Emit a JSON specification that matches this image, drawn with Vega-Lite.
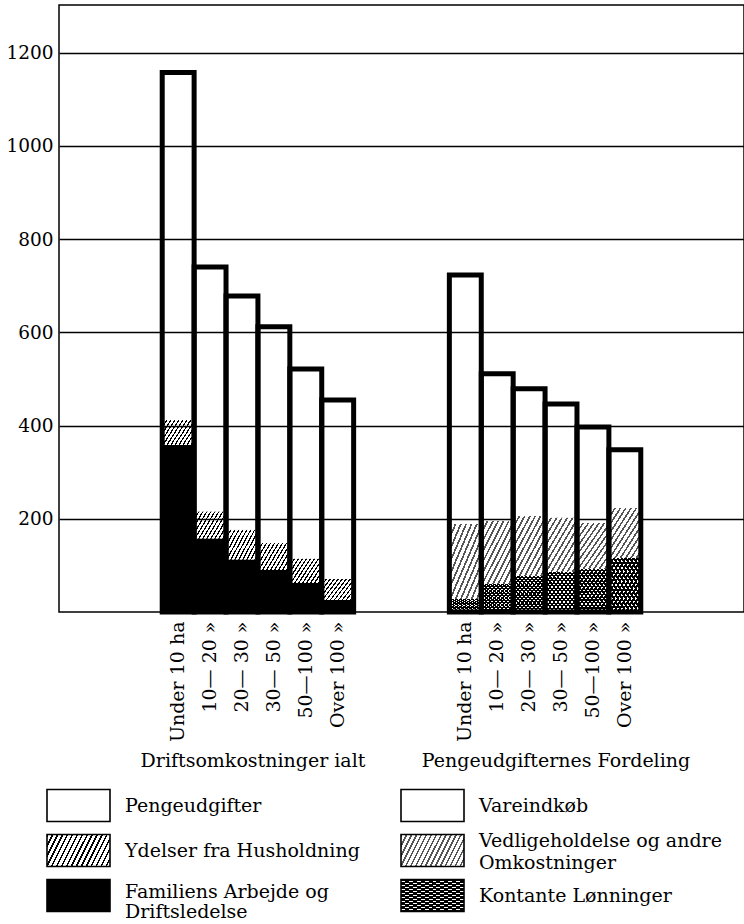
{
  "$schema": "https://vega.github.io/schema/vega-lite/v6.json",
  "background": "white",
  "padding": {"left": 5, "top": 4, "right": 0, "bottom": 0},
  "bounds": "flush",
  "spacing": 126,
  "config": {
    "view": {"stroke": null},
    "font": "DejaVu Serif",
    "axis": {"labelFont": "DejaVu Serif", "labelColor": "#000"},
    "text": {"font": "DejaVu Serif", "color": "#000"}
  },
  "vconcat": [
    {
      "width": 685,
      "height": 607,
      "view": {"stroke": "#000", "strokeWidth": 1.5},
      "data": {
        "values": [
          {"key": "D:Under 10 ha", "part": "Familiens Arbejde og Driftsledelse", "level": 1, "value": 358},
          {"key": "D:Under 10 ha", "part": "Ydelser fra Husholdning", "level": 2, "value": 54},
          {"key": "D:Under 10 ha", "part": "Pengeudgifter", "level": 3, "value": 745},
          {"key": "D:10— 20 »", "part": "Familiens Arbejde og Driftsledelse", "level": 1, "value": 157},
          {"key": "D:10— 20 »", "part": "Ydelser fra Husholdning", "level": 2, "value": 58},
          {"key": "D:10— 20 »", "part": "Pengeudgifter", "level": 3, "value": 525},
          {"key": "D:20— 30 »", "part": "Familiens Arbejde og Driftsledelse", "level": 1, "value": 112},
          {"key": "D:20— 30 »", "part": "Ydelser fra Husholdning", "level": 2, "value": 64},
          {"key": "D:20— 30 »", "part": "Pengeudgifter", "level": 3, "value": 502},
          {"key": "D:30— 50 »", "part": "Familiens Arbejde og Driftsledelse", "level": 1, "value": 90},
          {"key": "D:30— 50 »", "part": "Ydelser fra Husholdning", "level": 2, "value": 58},
          {"key": "D:30— 50 »", "part": "Pengeudgifter", "level": 3, "value": 464},
          {"key": "D:50—100 »", "part": "Familiens Arbejde og Driftsledelse", "level": 1, "value": 62},
          {"key": "D:50—100 »", "part": "Ydelser fra Husholdning", "level": 2, "value": 52},
          {"key": "D:50—100 »", "part": "Pengeudgifter", "level": 3, "value": 407},
          {"key": "D:Over 100 »", "part": "Familiens Arbejde og Driftsledelse", "level": 1, "value": 26},
          {"key": "D:Over 100 »", "part": "Ydelser fra Husholdning", "level": 2, "value": 45},
          {"key": "D:Over 100 »", "part": "Pengeudgifter", "level": 3, "value": 384},
          {"key": "P:Under 10 ha", "part": "Kontante Lønninger", "level": 1, "value": 28},
          {"key": "P:Under 10 ha", "part": "Vedligeholdelse og andre Omkostninger", "level": 2, "value": 161},
          {"key": "P:Under 10 ha", "part": "Vareindkøb", "level": 3, "value": 534},
          {"key": "P:10— 20 »", "part": "Kontante Lønninger", "level": 1, "value": 60},
          {"key": "P:10— 20 »", "part": "Vedligeholdelse og andre Omkostninger", "level": 2, "value": 135},
          {"key": "P:10— 20 »", "part": "Vareindkøb", "level": 3, "value": 316},
          {"key": "P:20— 30 »", "part": "Kontante Lønninger", "level": 1, "value": 77},
          {"key": "P:20— 30 »", "part": "Vedligeholdelse og andre Omkostninger", "level": 2, "value": 129},
          {"key": "P:20— 30 »", "part": "Vareindkøb", "level": 3, "value": 273},
          {"key": "P:30— 50 »", "part": "Kontante Lønninger", "level": 1, "value": 86},
          {"key": "P:30— 50 »", "part": "Vedligeholdelse og andre Omkostninger", "level": 2, "value": 116},
          {"key": "P:30— 50 »", "part": "Vareindkøb", "level": 3, "value": 244},
          {"key": "P:50—100 »", "part": "Kontante Lønninger", "level": 1, "value": 92},
          {"key": "P:50—100 »", "part": "Vedligeholdelse og andre Omkostninger", "level": 2, "value": 99},
          {"key": "P:50—100 »", "part": "Vareindkøb", "level": 3, "value": 206},
          {"key": "P:Over 100 »", "part": "Kontante Lønninger", "level": 1, "value": 116},
          {"key": "P:Over 100 »", "part": "Vedligeholdelse og andre Omkostninger", "level": 2, "value": 107},
          {"key": "P:Over 100 »", "part": "Vareindkøb", "level": 3, "value": 125}
        ]
      },
      "transform": [
        {"stack": "value", "groupby": ["key"], "sort": [{"field": "level", "order": "ascending"}], "as": ["v0", "v1"]}
      ],
      "encoding": {
        "x": {
          "field": "key", "type": "nominal", "sort": null,
          "scale": {
            "domain": ["a1", "a2", "a3", "D:Under 10 ha", "D:10— 20 »", "D:20— 30 »", "D:30— 50 »", "D:50—100 »", "D:Over 100 »", "g1", "g2", "g3", "P:Under 10 ha", "P:10— 20 »", "P:20— 30 »", "P:30— 50 »", "P:50—100 »", "P:Over 100 »", "z1", "z2", "z3"],
            "paddingInner": 0, "paddingOuter": 0.235
          },
          "axis": {
            "orient": "bottom", "title": null, "labelAngle": -90, "labelAlign": "right", "labelBaseline": "middle",
            "labelPadding": 9, "ticks": false, "domain": false, "grid": false, "labelFontSize": 19,
            "labelExpr": "slice(datum.value, 2)", "labelOverlap": false, "labelLimit": 300
          }
        }
      },
      "layer": [
        {
          "transform": [{"filter": {"field": "part", "equal": "Familiens Arbejde og Driftsledelse"}}],
          "mark": {"type": "bar", "fill": "#000"},
          "encoding": {
            "y": {
              "field": "v1", "type": "quantitative",
              "scale": {"domain": [0, 1302], "nice": false},
              "axis": {"title": null, "format": "d", "values": [200, 400, 600, 800, 1000, 1200], "grid": true, "gridColor": "#000", "gridWidth": 1.3, "gridOpacity": 1, "ticks": false, "domain": false, "labelPadding": 6, "labelFontSize": 18.5}
            },
            "y2": {"field": "v0"}
          }
        },
        {
          "transform": [{"filter": {"field": "part", "equal": "Ydelser fra Husholdning"}}],
          "mark": {"type": "bar", "fill": {"gradient": "linear", "x1": 0, "y1": 0, "x2": 1.2, "y2": 0.6, "stops": [
            {"offset": 0, "color": "#000"}, {"offset": 0.029, "color": "#000"}, {"offset": 0.029, "color": "transparent"}, {"offset": 0.0833, "color": "transparent"},
            {"offset": 0.0833, "color": "#000"}, {"offset": 0.1123, "color": "#000"}, {"offset": 0.1123, "color": "transparent"}, {"offset": 0.1667, "color": "transparent"},
            {"offset": 0.1667, "color": "#000"}, {"offset": 0.1957, "color": "#000"}, {"offset": 0.1957, "color": "transparent"}, {"offset": 0.25, "color": "transparent"},
            {"offset": 0.25, "color": "#000"}, {"offset": 0.279, "color": "#000"}, {"offset": 0.279, "color": "transparent"}, {"offset": 0.3333, "color": "transparent"},
            {"offset": 0.3333, "color": "#000"}, {"offset": 0.3623, "color": "#000"}, {"offset": 0.3623, "color": "transparent"}, {"offset": 0.4167, "color": "transparent"},
            {"offset": 0.4167, "color": "#000"}, {"offset": 0.4457, "color": "#000"}, {"offset": 0.4457, "color": "transparent"}, {"offset": 0.5, "color": "transparent"},
            {"offset": 0.5, "color": "#000"}, {"offset": 0.529, "color": "#000"}, {"offset": 0.529, "color": "transparent"}, {"offset": 0.5833, "color": "transparent"},
            {"offset": 0.5833, "color": "#000"}, {"offset": 0.6123, "color": "#000"}, {"offset": 0.6123, "color": "transparent"}, {"offset": 0.6667, "color": "transparent"},
            {"offset": 0.6667, "color": "#000"}, {"offset": 0.6957, "color": "#000"}, {"offset": 0.6957, "color": "transparent"}, {"offset": 0.75, "color": "transparent"},
            {"offset": 0.75, "color": "#000"}, {"offset": 0.779, "color": "#000"}, {"offset": 0.779, "color": "transparent"}, {"offset": 0.8333, "color": "transparent"},
            {"offset": 0.8333, "color": "#000"}, {"offset": 0.8623, "color": "#000"}, {"offset": 0.8623, "color": "transparent"}, {"offset": 0.9167, "color": "transparent"},
            {"offset": 0.9167, "color": "#000"}, {"offset": 0.9457, "color": "#000"}, {"offset": 0.9457, "color": "transparent"}, {"offset": 1, "color": "transparent"}
          ]}},
          "encoding": {
            "y": {
              "field": "v1", "type": "quantitative",
              "scale": {"domain": [0, 1302], "nice": false},
              "axis": {"title": null, "format": "d", "values": [200, 400, 600, 800, 1000, 1200], "grid": true, "gridColor": "#000", "gridWidth": 1.3, "gridOpacity": 1, "ticks": false, "domain": false, "labelPadding": 6, "labelFontSize": 18.5}
            },
            "y2": {"field": "v0"}
          }
        },
        {
          "transform": [{"filter": {"field": "part", "equal": "Vedligeholdelse og andre Omkostninger"}}],
          "mark": {"type": "bar", "fill": {"gradient": "linear", "x1": 0, "y1": 0, "x2": 1, "y2": 1, "stops": [
            {"offset": 0, "color": "#555"}, {"offset": 0.029, "color": "#555"}, {"offset": 0.029, "color": "#fff"}, {"offset": 0.0833, "color": "#fff"},
            {"offset": 0.0833, "color": "#555"}, {"offset": 0.1123, "color": "#555"}, {"offset": 0.1123, "color": "#fff"}, {"offset": 0.1667, "color": "#fff"},
            {"offset": 0.1667, "color": "#555"}, {"offset": 0.1957, "color": "#555"}, {"offset": 0.1957, "color": "#fff"}, {"offset": 0.25, "color": "#fff"},
            {"offset": 0.25, "color": "#555"}, {"offset": 0.279, "color": "#555"}, {"offset": 0.279, "color": "#fff"}, {"offset": 0.3333, "color": "#fff"},
            {"offset": 0.3333, "color": "#555"}, {"offset": 0.3623, "color": "#555"}, {"offset": 0.3623, "color": "#fff"}, {"offset": 0.4167, "color": "#fff"},
            {"offset": 0.4167, "color": "#555"}, {"offset": 0.4457, "color": "#555"}, {"offset": 0.4457, "color": "#fff"}, {"offset": 0.5, "color": "#fff"},
            {"offset": 0.5, "color": "#555"}, {"offset": 0.529, "color": "#555"}, {"offset": 0.529, "color": "#fff"}, {"offset": 0.5833, "color": "#fff"},
            {"offset": 0.5833, "color": "#555"}, {"offset": 0.6123, "color": "#555"}, {"offset": 0.6123, "color": "#fff"}, {"offset": 0.6667, "color": "#fff"},
            {"offset": 0.6667, "color": "#555"}, {"offset": 0.6957, "color": "#555"}, {"offset": 0.6957, "color": "#fff"}, {"offset": 0.75, "color": "#fff"},
            {"offset": 0.75, "color": "#555"}, {"offset": 0.779, "color": "#555"}, {"offset": 0.779, "color": "#fff"}, {"offset": 0.8333, "color": "#fff"},
            {"offset": 0.8333, "color": "#555"}, {"offset": 0.8623, "color": "#555"}, {"offset": 0.8623, "color": "#fff"}, {"offset": 0.9167, "color": "#fff"},
            {"offset": 0.9167, "color": "#555"}, {"offset": 0.9457, "color": "#555"}, {"offset": 0.9457, "color": "#fff"}, {"offset": 1, "color": "#fff"}
          ]}},
          "encoding": {
            "y": {
              "field": "v1", "type": "quantitative",
              "scale": {"domain": [0, 1302], "nice": false},
              "axis": {"title": null, "format": "d", "values": [200, 400, 600, 800, 1000, 1200], "grid": true, "gridColor": "#000", "gridWidth": 1.3, "gridOpacity": 1, "ticks": false, "domain": false, "labelPadding": 6, "labelFontSize": 18.5}
            },
            "y2": {"field": "v0"}
          }
        },
        {
          "transform": [{"filter": {"field": "part", "equal": "Kontante Lønninger"}}],
          "mark": {"type": "bar", "fill": {"gradient": "linear", "x1": 0, "y1": 0, "x2": 1, "y2": 1, "stops": [
            {"offset": 0, "color": "#000"}, {"offset": 0.03125, "color": "#000"}, {"offset": 0.03125, "color": "#fff"}, {"offset": 0.0625, "color": "#fff"},
            {"offset": 0.0625, "color": "#000"}, {"offset": 0.09375, "color": "#000"}, {"offset": 0.09375, "color": "#fff"}, {"offset": 0.125, "color": "#fff"},
            {"offset": 0.125, "color": "#000"}, {"offset": 0.15625, "color": "#000"}, {"offset": 0.15625, "color": "#fff"}, {"offset": 0.1875, "color": "#fff"},
            {"offset": 0.1875, "color": "#000"}, {"offset": 0.21875, "color": "#000"}, {"offset": 0.21875, "color": "#fff"}, {"offset": 0.25, "color": "#fff"},
            {"offset": 0.25, "color": "#000"}, {"offset": 0.28125, "color": "#000"}, {"offset": 0.28125, "color": "#fff"}, {"offset": 0.3125, "color": "#fff"},
            {"offset": 0.3125, "color": "#000"}, {"offset": 0.34375, "color": "#000"}, {"offset": 0.34375, "color": "#fff"}, {"offset": 0.375, "color": "#fff"},
            {"offset": 0.375, "color": "#000"}, {"offset": 0.40625, "color": "#000"}, {"offset": 0.40625, "color": "#fff"}, {"offset": 0.4375, "color": "#fff"},
            {"offset": 0.4375, "color": "#000"}, {"offset": 0.46875, "color": "#000"}, {"offset": 0.46875, "color": "#fff"}, {"offset": 0.5, "color": "#fff"},
            {"offset": 0.5, "color": "#000"}, {"offset": 0.53125, "color": "#000"}, {"offset": 0.53125, "color": "#fff"}, {"offset": 0.5625, "color": "#fff"},
            {"offset": 0.5625, "color": "#000"}, {"offset": 0.59375, "color": "#000"}, {"offset": 0.59375, "color": "#fff"}, {"offset": 0.625, "color": "#fff"},
            {"offset": 0.625, "color": "#000"}, {"offset": 0.65625, "color": "#000"}, {"offset": 0.65625, "color": "#fff"}, {"offset": 0.6875, "color": "#fff"},
            {"offset": 0.6875, "color": "#000"}, {"offset": 0.71875, "color": "#000"}, {"offset": 0.71875, "color": "#fff"}, {"offset": 0.75, "color": "#fff"},
            {"offset": 0.75, "color": "#000"}, {"offset": 0.78125, "color": "#000"}, {"offset": 0.78125, "color": "#fff"}, {"offset": 0.8125, "color": "#fff"},
            {"offset": 0.8125, "color": "#000"}, {"offset": 0.84375, "color": "#000"}, {"offset": 0.84375, "color": "#fff"}, {"offset": 0.875, "color": "#fff"},
            {"offset": 0.875, "color": "#000"}, {"offset": 0.90625, "color": "#000"}, {"offset": 0.90625, "color": "#fff"}, {"offset": 0.9375, "color": "#fff"},
            {"offset": 0.9375, "color": "#000"}, {"offset": 0.96875, "color": "#000"}, {"offset": 0.96875, "color": "#fff"}, {"offset": 1, "color": "#fff"}
          ]}},
          "encoding": {
            "y": {
              "field": "v1", "type": "quantitative",
              "scale": {"domain": [0, 1302], "nice": false},
              "axis": {"title": null, "format": "d", "values": [200, 400, 600, 800, 1000, 1200], "grid": true, "gridColor": "#000", "gridWidth": 1.3, "gridOpacity": 1, "ticks": false, "domain": false, "labelPadding": 6, "labelFontSize": 18.5}
            },
            "y2": {"field": "v0"}
          }
        },
        {
          "transform": [{"filter": {"field": "part", "equal": "Kontante Lønninger"}}],
          "mark": {"type": "bar", "fill": {"gradient": "linear", "x1": 0, "y1": 1, "x2": 1, "y2": 0, "stops": [
            {"offset": 0, "color": "#000"}, {"offset": 0.03125, "color": "#000"}, {"offset": 0.03125, "color": "transparent"}, {"offset": 0.0625, "color": "transparent"},
            {"offset": 0.0625, "color": "#000"}, {"offset": 0.09375, "color": "#000"}, {"offset": 0.09375, "color": "transparent"}, {"offset": 0.125, "color": "transparent"},
            {"offset": 0.125, "color": "#000"}, {"offset": 0.15625, "color": "#000"}, {"offset": 0.15625, "color": "transparent"}, {"offset": 0.1875, "color": "transparent"},
            {"offset": 0.1875, "color": "#000"}, {"offset": 0.21875, "color": "#000"}, {"offset": 0.21875, "color": "transparent"}, {"offset": 0.25, "color": "transparent"},
            {"offset": 0.25, "color": "#000"}, {"offset": 0.28125, "color": "#000"}, {"offset": 0.28125, "color": "transparent"}, {"offset": 0.3125, "color": "transparent"},
            {"offset": 0.3125, "color": "#000"}, {"offset": 0.34375, "color": "#000"}, {"offset": 0.34375, "color": "transparent"}, {"offset": 0.375, "color": "transparent"},
            {"offset": 0.375, "color": "#000"}, {"offset": 0.40625, "color": "#000"}, {"offset": 0.40625, "color": "transparent"}, {"offset": 0.4375, "color": "transparent"},
            {"offset": 0.4375, "color": "#000"}, {"offset": 0.46875, "color": "#000"}, {"offset": 0.46875, "color": "transparent"}, {"offset": 0.5, "color": "transparent"},
            {"offset": 0.5, "color": "#000"}, {"offset": 0.53125, "color": "#000"}, {"offset": 0.53125, "color": "transparent"}, {"offset": 0.5625, "color": "transparent"},
            {"offset": 0.5625, "color": "#000"}, {"offset": 0.59375, "color": "#000"}, {"offset": 0.59375, "color": "transparent"}, {"offset": 0.625, "color": "transparent"},
            {"offset": 0.625, "color": "#000"}, {"offset": 0.65625, "color": "#000"}, {"offset": 0.65625, "color": "transparent"}, {"offset": 0.6875, "color": "transparent"},
            {"offset": 0.6875, "color": "#000"}, {"offset": 0.71875, "color": "#000"}, {"offset": 0.71875, "color": "transparent"}, {"offset": 0.75, "color": "transparent"},
            {"offset": 0.75, "color": "#000"}, {"offset": 0.78125, "color": "#000"}, {"offset": 0.78125, "color": "transparent"}, {"offset": 0.8125, "color": "transparent"},
            {"offset": 0.8125, "color": "#000"}, {"offset": 0.84375, "color": "#000"}, {"offset": 0.84375, "color": "transparent"}, {"offset": 0.875, "color": "transparent"},
            {"offset": 0.875, "color": "#000"}, {"offset": 0.90625, "color": "#000"}, {"offset": 0.90625, "color": "transparent"}, {"offset": 0.9375, "color": "transparent"},
            {"offset": 0.9375, "color": "#000"}, {"offset": 0.96875, "color": "#000"}, {"offset": 0.96875, "color": "transparent"}, {"offset": 1, "color": "transparent"}
          ]}},
          "encoding": {
            "y": {
              "field": "v1", "type": "quantitative",
              "scale": {"domain": [0, 1302], "nice": false},
              "axis": {"title": null, "format": "d", "values": [200, 400, 600, 800, 1000, 1200], "grid": true, "gridColor": "#000", "gridWidth": 1.3, "gridOpacity": 1, "ticks": false, "domain": false, "labelPadding": 6, "labelFontSize": 18.5}
            },
            "y2": {"field": "v0"}
          }
        },
        {
          "mark": {"type": "bar", "fill": "transparent", "stroke": "#000", "strokeWidth": 5},
          "encoding": {
            "y": {
              "aggregate": "sum", "field": "value", "type": "quantitative",
              "scale": {"domain": [0, 1302], "nice": false},
              "axis": {"title": null, "format": "d", "values": [200, 400, 600, 800, 1000, 1200], "grid": true, "gridColor": "#000", "gridWidth": 1.3, "gridOpacity": 1, "ticks": false, "domain": false, "labelPadding": 6, "labelFontSize": 18.5}
            }
          }
        }
      ]
    },
    {
      "width": 685,
      "height": 180,
      "view": {"stroke": null},
      "data": {
        "values": [
          {"col": "A", "row": "1", "label": "Pengeudgifter"},
          {"col": "A", "row": "2", "label": "Ydelser fra Husholdning"},
          {"col": "A", "row": "3", "label": "Familiens Arbejde og\n\u2002Driftsledelse"},
          {"col": "B", "row": "1", "label": "Vareindkøb"},
          {"col": "B", "row": "2", "label": "Vedligeholdelse og andre\n\u2009Omkostninger"},
          {"col": "B", "row": "3", "label": "Kontante Lønninger"}
        ]
      },
      "encoding": {
        "y": {"field": "row", "type": "nominal", "scale": {"type": "band", "domain": ["t", "1", "2", "3"], "paddingInner": 0, "paddingOuter": 0}, "axis": null}
      },
      "layer": [
        {
          "data": {"values": [
            {"col": "A", "row": "t", "label": "Driftsomkostninger ialt"},
            {"col": "B", "row": "t", "label": "Pengeudgifternes Fordeling"}
          ]},
          "mark": {"type": "text", "fontSize": 19, "align": "center", "baseline": "middle", "color": "#000"},
          "encoding": {
            "x": {"field": "col", "type": "nominal", "scale": {"type": "band", "domain": ["A", "B"], "paddingInner": 0, "paddingOuter": 0.1304, "align": 0.538}, "axis": null},
            "text": {"field": "label"}
          }
        },
        {
          "transform": [{"filter": "datum.row == '1'"}],
          "mark": {"type": "point", "shape": "M-1,-0.508H1V0.508H-1Z", "size": 3969, "filled": true, "fill": "#fff", "stroke": "#000", "strokeWidth": 1.6, "opacity": 1, "xOffset": -146},
          "encoding": {
            "x": {"field": "col", "type": "nominal", "scale": {"type": "band", "domain": ["A", "B"], "paddingInner": 0.065, "paddingOuter": 0}, "axis": null}
          }
        },
        {
          "transform": [{"filter": "datum.row == '2' && datum.col == 'A'"}],
          "mark": {"type": "point", "shape": "M-1,-0.508H1V0.508H-1Z", "size": 3969, "filled": true, "stroke": "#000", "strokeWidth": 1.6, "opacity": 1, "xOffset": -146,
            "fill": {"gradient": "linear", "x1": 0, "y1": 0, "x2": 1.178, "y2": 0.3, "stops": [
              {"offset": 0, "color": "#000"}, {"offset": 0.0219, "color": "#000"}, {"offset": 0.0219, "color": "#fff"}, {"offset": 0.0625, "color": "#fff"},
              {"offset": 0.0625, "color": "#000"}, {"offset": 0.0844, "color": "#000"}, {"offset": 0.0844, "color": "#fff"}, {"offset": 0.125, "color": "#fff"},
              {"offset": 0.125, "color": "#000"}, {"offset": 0.1469, "color": "#000"}, {"offset": 0.1469, "color": "#fff"}, {"offset": 0.1875, "color": "#fff"},
              {"offset": 0.1875, "color": "#000"}, {"offset": 0.2094, "color": "#000"}, {"offset": 0.2094, "color": "#fff"}, {"offset": 0.25, "color": "#fff"},
              {"offset": 0.25, "color": "#000"}, {"offset": 0.2719, "color": "#000"}, {"offset": 0.2719, "color": "#fff"}, {"offset": 0.3125, "color": "#fff"},
              {"offset": 0.3125, "color": "#000"}, {"offset": 0.3344, "color": "#000"}, {"offset": 0.3344, "color": "#fff"}, {"offset": 0.375, "color": "#fff"},
              {"offset": 0.375, "color": "#000"}, {"offset": 0.3969, "color": "#000"}, {"offset": 0.3969, "color": "#fff"}, {"offset": 0.4375, "color": "#fff"},
              {"offset": 0.4375, "color": "#000"}, {"offset": 0.4594, "color": "#000"}, {"offset": 0.4594, "color": "#fff"}, {"offset": 0.5, "color": "#fff"},
              {"offset": 0.5, "color": "#000"}, {"offset": 0.5219, "color": "#000"}, {"offset": 0.5219, "color": "#fff"}, {"offset": 0.5625, "color": "#fff"},
              {"offset": 0.5625, "color": "#000"}, {"offset": 0.5844, "color": "#000"}, {"offset": 0.5844, "color": "#fff"}, {"offset": 0.625, "color": "#fff"},
              {"offset": 0.625, "color": "#000"}, {"offset": 0.6469, "color": "#000"}, {"offset": 0.6469, "color": "#fff"}, {"offset": 0.6875, "color": "#fff"},
              {"offset": 0.6875, "color": "#000"}, {"offset": 0.7094, "color": "#000"}, {"offset": 0.7094, "color": "#fff"}, {"offset": 0.75, "color": "#fff"},
              {"offset": 0.75, "color": "#000"}, {"offset": 0.7719, "color": "#000"}, {"offset": 0.7719, "color": "#fff"}, {"offset": 0.8125, "color": "#fff"},
              {"offset": 0.8125, "color": "#000"}, {"offset": 0.8344, "color": "#000"}, {"offset": 0.8344, "color": "#fff"}, {"offset": 0.875, "color": "#fff"},
              {"offset": 0.875, "color": "#000"}, {"offset": 0.8969, "color": "#000"}, {"offset": 0.8969, "color": "#fff"}, {"offset": 0.9375, "color": "#fff"},
              {"offset": 0.9375, "color": "#000"}, {"offset": 0.9594, "color": "#000"}, {"offset": 0.9594, "color": "#fff"}, {"offset": 1, "color": "#fff"}
            ]}},
          "encoding": {
            "x": {"field": "col", "type": "nominal", "scale": {"type": "band", "domain": ["A", "B"], "paddingInner": 0.065, "paddingOuter": 0}, "axis": null}
          }
        },
        {
          "transform": [{"filter": "datum.row == '3' && datum.col == 'A'"}],
          "mark": {"type": "point", "shape": "M-1,-0.508H1V0.508H-1Z", "size": 3969, "filled": true, "fill": "#000", "stroke": "#000", "strokeWidth": 1.6, "opacity": 1, "xOffset": -146},
          "encoding": {
            "x": {"field": "col", "type": "nominal", "scale": {"type": "band", "domain": ["A", "B"], "paddingInner": 0.065, "paddingOuter": 0}, "axis": null}
          }
        },
        {
          "transform": [{"filter": "datum.row == '2' && datum.col == 'B'"}],
          "mark": {"type": "point", "shape": "M-1,-0.508H1V0.508H-1Z", "size": 3969, "filled": true, "stroke": "#000", "strokeWidth": 1.6, "opacity": 1, "xOffset": -146,
            "fill": {"gradient": "linear", "x1": 0, "y1": 0, "x2": 1.178, "y2": 0.3, "stops": [
              {"offset": 0, "color": "#555"}, {"offset": 0.0219, "color": "#555"}, {"offset": 0.0219, "color": "#fff"}, {"offset": 0.0625, "color": "#fff"},
              {"offset": 0.0625, "color": "#555"}, {"offset": 0.0844, "color": "#555"}, {"offset": 0.0844, "color": "#fff"}, {"offset": 0.125, "color": "#fff"},
              {"offset": 0.125, "color": "#555"}, {"offset": 0.1469, "color": "#555"}, {"offset": 0.1469, "color": "#fff"}, {"offset": 0.1875, "color": "#fff"},
              {"offset": 0.1875, "color": "#555"}, {"offset": 0.2094, "color": "#555"}, {"offset": 0.2094, "color": "#fff"}, {"offset": 0.25, "color": "#fff"},
              {"offset": 0.25, "color": "#555"}, {"offset": 0.2719, "color": "#555"}, {"offset": 0.2719, "color": "#fff"}, {"offset": 0.3125, "color": "#fff"},
              {"offset": 0.3125, "color": "#555"}, {"offset": 0.3344, "color": "#555"}, {"offset": 0.3344, "color": "#fff"}, {"offset": 0.375, "color": "#fff"},
              {"offset": 0.375, "color": "#555"}, {"offset": 0.3969, "color": "#555"}, {"offset": 0.3969, "color": "#fff"}, {"offset": 0.4375, "color": "#fff"},
              {"offset": 0.4375, "color": "#555"}, {"offset": 0.4594, "color": "#555"}, {"offset": 0.4594, "color": "#fff"}, {"offset": 0.5, "color": "#fff"},
              {"offset": 0.5, "color": "#555"}, {"offset": 0.5219, "color": "#555"}, {"offset": 0.5219, "color": "#fff"}, {"offset": 0.5625, "color": "#fff"},
              {"offset": 0.5625, "color": "#555"}, {"offset": 0.5844, "color": "#555"}, {"offset": 0.5844, "color": "#fff"}, {"offset": 0.625, "color": "#fff"},
              {"offset": 0.625, "color": "#555"}, {"offset": 0.6469, "color": "#555"}, {"offset": 0.6469, "color": "#fff"}, {"offset": 0.6875, "color": "#fff"},
              {"offset": 0.6875, "color": "#555"}, {"offset": 0.7094, "color": "#555"}, {"offset": 0.7094, "color": "#fff"}, {"offset": 0.75, "color": "#fff"},
              {"offset": 0.75, "color": "#555"}, {"offset": 0.7719, "color": "#555"}, {"offset": 0.7719, "color": "#fff"}, {"offset": 0.8125, "color": "#fff"},
              {"offset": 0.8125, "color": "#555"}, {"offset": 0.8344, "color": "#555"}, {"offset": 0.8344, "color": "#fff"}, {"offset": 0.875, "color": "#fff"},
              {"offset": 0.875, "color": "#555"}, {"offset": 0.8969, "color": "#555"}, {"offset": 0.8969, "color": "#fff"}, {"offset": 0.9375, "color": "#fff"},
              {"offset": 0.9375, "color": "#555"}, {"offset": 0.9594, "color": "#555"}, {"offset": 0.9594, "color": "#fff"}, {"offset": 1, "color": "#fff"}
            ]}},
          "encoding": {
            "x": {"field": "col", "type": "nominal", "scale": {"type": "band", "domain": ["A", "B"], "paddingInner": 0.065, "paddingOuter": 0}, "axis": null}
          }
        },
        {
          "transform": [{"filter": "datum.row == '3' && datum.col == 'B'"}],
          "mark": {"type": "point", "shape": "M-1,-0.508H1V0.508H-1Z", "size": 3969, "filled": true, "opacity": 1, "xOffset": -146,
            "fill": {"gradient": "linear", "x1": 0, "y1": 0, "x2": 1, "y2": 1, "stops": [
              {"offset": 0, "color": "#000"}, {"offset": 0.03125, "color": "#000"}, {"offset": 0.03125, "color": "#fff"}, {"offset": 0.0625, "color": "#fff"},
              {"offset": 0.0625, "color": "#000"}, {"offset": 0.09375, "color": "#000"}, {"offset": 0.09375, "color": "#fff"}, {"offset": 0.125, "color": "#fff"},
              {"offset": 0.125, "color": "#000"}, {"offset": 0.15625, "color": "#000"}, {"offset": 0.15625, "color": "#fff"}, {"offset": 0.1875, "color": "#fff"},
              {"offset": 0.1875, "color": "#000"}, {"offset": 0.21875, "color": "#000"}, {"offset": 0.21875, "color": "#fff"}, {"offset": 0.25, "color": "#fff"},
              {"offset": 0.25, "color": "#000"}, {"offset": 0.28125, "color": "#000"}, {"offset": 0.28125, "color": "#fff"}, {"offset": 0.3125, "color": "#fff"},
              {"offset": 0.3125, "color": "#000"}, {"offset": 0.34375, "color": "#000"}, {"offset": 0.34375, "color": "#fff"}, {"offset": 0.375, "color": "#fff"},
              {"offset": 0.375, "color": "#000"}, {"offset": 0.40625, "color": "#000"}, {"offset": 0.40625, "color": "#fff"}, {"offset": 0.4375, "color": "#fff"},
              {"offset": 0.4375, "color": "#000"}, {"offset": 0.46875, "color": "#000"}, {"offset": 0.46875, "color": "#fff"}, {"offset": 0.5, "color": "#fff"},
              {"offset": 0.5, "color": "#000"}, {"offset": 0.53125, "color": "#000"}, {"offset": 0.53125, "color": "#fff"}, {"offset": 0.5625, "color": "#fff"},
              {"offset": 0.5625, "color": "#000"}, {"offset": 0.59375, "color": "#000"}, {"offset": 0.59375, "color": "#fff"}, {"offset": 0.625, "color": "#fff"},
              {"offset": 0.625, "color": "#000"}, {"offset": 0.65625, "color": "#000"}, {"offset": 0.65625, "color": "#fff"}, {"offset": 0.6875, "color": "#fff"},
              {"offset": 0.6875, "color": "#000"}, {"offset": 0.71875, "color": "#000"}, {"offset": 0.71875, "color": "#fff"}, {"offset": 0.75, "color": "#fff"},
              {"offset": 0.75, "color": "#000"}, {"offset": 0.78125, "color": "#000"}, {"offset": 0.78125, "color": "#fff"}, {"offset": 0.8125, "color": "#fff"},
              {"offset": 0.8125, "color": "#000"}, {"offset": 0.84375, "color": "#000"}, {"offset": 0.84375, "color": "#fff"}, {"offset": 0.875, "color": "#fff"},
              {"offset": 0.875, "color": "#000"}, {"offset": 0.90625, "color": "#000"}, {"offset": 0.90625, "color": "#fff"}, {"offset": 0.9375, "color": "#fff"},
              {"offset": 0.9375, "color": "#000"}, {"offset": 0.96875, "color": "#000"}, {"offset": 0.96875, "color": "#fff"}, {"offset": 1, "color": "#fff"}
            ]}},
          "encoding": {
            "x": {"field": "col", "type": "nominal", "scale": {"type": "band", "domain": ["A", "B"], "paddingInner": 0.065, "paddingOuter": 0}, "axis": null}
          }
        },
        {
          "transform": [{"filter": "datum.row == '3' && datum.col == 'B'"}],
          "mark": {"type": "point", "shape": "M-1,-0.508H1V0.508H-1Z", "size": 3969, "filled": true, "stroke": "#000", "strokeWidth": 1.6, "opacity": 1, "xOffset": -146,
            "fill": {"gradient": "linear", "x1": 0, "y1": 1, "x2": 1, "y2": 0, "stops": [
              {"offset": 0, "color": "#000"}, {"offset": 0.03125, "color": "#000"}, {"offset": 0.03125, "color": "transparent"}, {"offset": 0.0625, "color": "transparent"},
              {"offset": 0.0625, "color": "#000"}, {"offset": 0.09375, "color": "#000"}, {"offset": 0.09375, "color": "transparent"}, {"offset": 0.125, "color": "transparent"},
              {"offset": 0.125, "color": "#000"}, {"offset": 0.15625, "color": "#000"}, {"offset": 0.15625, "color": "transparent"}, {"offset": 0.1875, "color": "transparent"},
              {"offset": 0.1875, "color": "#000"}, {"offset": 0.21875, "color": "#000"}, {"offset": 0.21875, "color": "transparent"}, {"offset": 0.25, "color": "transparent"},
              {"offset": 0.25, "color": "#000"}, {"offset": 0.28125, "color": "#000"}, {"offset": 0.28125, "color": "transparent"}, {"offset": 0.3125, "color": "transparent"},
              {"offset": 0.3125, "color": "#000"}, {"offset": 0.34375, "color": "#000"}, {"offset": 0.34375, "color": "transparent"}, {"offset": 0.375, "color": "transparent"},
              {"offset": 0.375, "color": "#000"}, {"offset": 0.40625, "color": "#000"}, {"offset": 0.40625, "color": "transparent"}, {"offset": 0.4375, "color": "transparent"},
              {"offset": 0.4375, "color": "#000"}, {"offset": 0.46875, "color": "#000"}, {"offset": 0.46875, "color": "transparent"}, {"offset": 0.5, "color": "transparent"},
              {"offset": 0.5, "color": "#000"}, {"offset": 0.53125, "color": "#000"}, {"offset": 0.53125, "color": "transparent"}, {"offset": 0.5625, "color": "transparent"},
              {"offset": 0.5625, "color": "#000"}, {"offset": 0.59375, "color": "#000"}, {"offset": 0.59375, "color": "transparent"}, {"offset": 0.625, "color": "transparent"},
              {"offset": 0.625, "color": "#000"}, {"offset": 0.65625, "color": "#000"}, {"offset": 0.65625, "color": "transparent"}, {"offset": 0.6875, "color": "transparent"},
              {"offset": 0.6875, "color": "#000"}, {"offset": 0.71875, "color": "#000"}, {"offset": 0.71875, "color": "transparent"}, {"offset": 0.75, "color": "transparent"},
              {"offset": 0.75, "color": "#000"}, {"offset": 0.78125, "color": "#000"}, {"offset": 0.78125, "color": "transparent"}, {"offset": 0.8125, "color": "transparent"},
              {"offset": 0.8125, "color": "#000"}, {"offset": 0.84375, "color": "#000"}, {"offset": 0.84375, "color": "transparent"}, {"offset": 0.875, "color": "transparent"},
              {"offset": 0.875, "color": "#000"}, {"offset": 0.90625, "color": "#000"}, {"offset": 0.90625, "color": "transparent"}, {"offset": 0.9375, "color": "transparent"},
              {"offset": 0.9375, "color": "#000"}, {"offset": 0.96875, "color": "#000"}, {"offset": 0.96875, "color": "transparent"}, {"offset": 1, "color": "transparent"}
            ]}},
          "encoding": {
            "x": {"field": "col", "type": "nominal", "scale": {"type": "band", "domain": ["A", "B"], "paddingInner": 0.065, "paddingOuter": 0}, "axis": null}
          }
        },
        {
          "transform": [{"filter": "datum.row != '3' || datum.col != 'A'"}, {"filter": "datum.row != '2' || datum.col != 'B'"}],
          "mark": {"type": "text", "fontSize": 19, "align": "left", "baseline": "middle", "dx": -99.5, "color": "#000"},
          "encoding": {
            "x": {"field": "col", "type": "nominal", "scale": {"type": "band", "domain": ["A", "B"], "paddingInner": 0.065, "paddingOuter": 0}, "axis": null},
            "text": {"field": "label"}
          }
        },
        {
          "transform": [{"filter": "datum.row == '3' && datum.col == 'A'"}],
          "mark": {"type": "text", "fontSize": 19, "align": "left", "baseline": "middle", "lineBreak": "\n", "lineHeight": 20, "dx": -99.5, "dy": -4, "color": "#000"},
          "encoding": {
            "x": {"field": "col", "type": "nominal", "scale": {"type": "band", "domain": ["A", "B"], "paddingInner": 0.065, "paddingOuter": 0}, "axis": null},
            "text": {"field": "label"}
          }
        },
        {
          "transform": [{"filter": "datum.row == '2' && datum.col == 'B'"}],
          "mark": {"type": "text", "fontSize": 19, "align": "left", "baseline": "middle", "lineBreak": "\n", "lineHeight": 22, "dx": -99.5, "dy": -10, "color": "#000"},
          "encoding": {
            "x": {"field": "col", "type": "nominal", "scale": {"type": "band", "domain": ["A", "B"], "paddingInner": 0.065, "paddingOuter": 0}, "axis": null},
            "text": {"field": "label"}
          }
        }
      ],
      "resolve": {"scale": {"x": "independent"}}
    }
  ]
}
